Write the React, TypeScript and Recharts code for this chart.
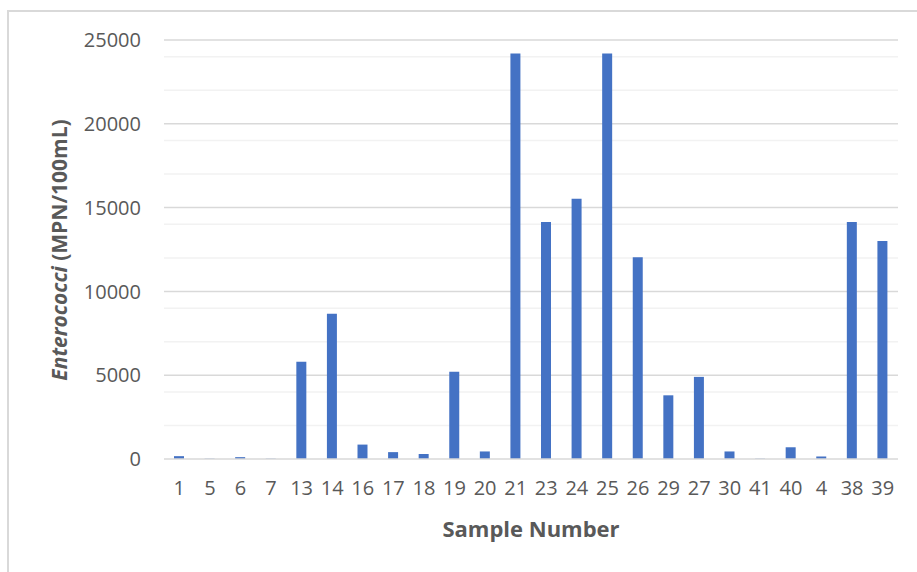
import React from "react";
import { BarChart, Bar, XAxis, YAxis, CartesianGrid, Label } from "recharts";

const samples = ["1","5","6","7","13","14","16","17","18","19","20","21","23","24","25","26","29","27","30","41","40","4","38","39"];
const enterococci = [170,20,110,20,5800,8660,860,410,300,5200,450,24196,14136,15531,24196,12033,3800,4900,450,20,700,150,14136,13000];
const yTicks = [0,5000,10000,15000,20000,25000];
const minorGrid = [1000,2000,3000,4000,6000,7000,8000,9000,11000,12000,13000,14000,16000,17000,18000,19000,21000,22000,23000,24000];
const majorGrid = [5000,10000,15000,20000,25000];

const data = samples.map((s, i) => ({ sample: s, value: enterococci[i] }));

const FONT = "'Open Sans', 'Noto Sans', sans-serif";

const YTitle = () => {
  const cx = 59;
  const cy = 250;
  return (
    <text
      x={cx}
      y={cy}
      transform={`rotate(-90, ${cx}, ${cy})`}
      textAnchor="middle"
      dominantBaseline="central"
      fill="#595959"
      fontFamily={FONT}
      fontSize={21}
      fontWeight="bold"
    >
      <tspan fontStyle="italic">Enterococci</tspan>
      <tspan> (MPN/100mL)</tspan>
    </text>
  );
};

export default function App() {
  return (
    <div style={{ position: "absolute", left: 0, top: 0, width: 917, height: 572, background: "#fff" }}>
      <div style={{ position: "absolute", left: 7, top: 10, width: 930, height: 600, border: "2px solid #d9d9d9", boxSizing: "border-box" }} />
      <div style={{ position: "absolute", left: 0, top: 0 }}>
        <BarChart
          width={917}
          height={572}
          data={data}
          margin={{ top: 40, right: 19, bottom: 23, left: 84 }}
          barCategoryGap={0}
        >
          <CartesianGrid vertical={false} horizontalValues={minorGrid} stroke="#f2f2f2" strokeWidth={1.5} />
          <CartesianGrid vertical={false} horizontalValues={majorGrid} stroke="#d9d9d9" strokeWidth={1.5} />
          <XAxis
            dataKey="sample"
            interval={0}
            axisLine={{ stroke: "#d9d9d9", strokeWidth: 1.5 }}
            tickLine={false}
            tickSize={0}
            tickMargin={22}
            tick={{ fill: "#595959", fontSize: 20, fontFamily: FONT }}
            height={90}
          >
            <Label
              value="Sample Number"
              position="insideTop"
              offset={62}
              fill="#595959"
              fontSize={22}
              fontWeight="bold"
              fontFamily={FONT}
            />
          </XAxis>
          <YAxis
            width={80}
            domain={[0, 25000]}
            ticks={yTicks}
            axisLine={false}
            tickLine={false}
            tickSize={0}
            tickMargin={23}
            tick={{ fill: "#595959", fontSize: 20, fontFamily: FONT }}
          >
            <Label content={<YTitle />} />
          </YAxis>
          <Bar dataKey="value" fill="#4472C4" barSize={10} isAnimationActive={false} />
        </BarChart>
      </div>
    </div>
  );
}
